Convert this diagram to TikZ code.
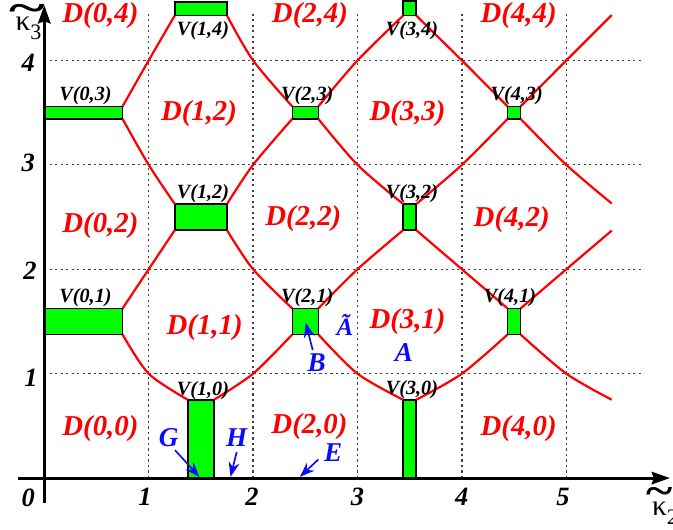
\documentclass[tikz,border=0pt]{standalone}
\usepackage{fontspec}
\setmainfont{Liberation Serif}
\usetikzlibrary{arrows.meta}
\definecolor{vgreen}{RGB}{0,255,0}
\definecolor{dred}{RGB}{255,0,0}
\definecolor{lblue}{RGB}{10,10,255}
\begin{document}
\begin{tikzpicture}[x=1cm,y=1cm,
  gridline/.style={line width=0.35pt, black!75, dash pattern=on 0.6pt off 0.9pt},
  axisline/.style={line width=0.8pt, -{Stealth[length=5pt,width=3.4pt,inset=0.6pt]}},
  vbox/.style={draw=black, line width=0.4pt, fill=vgreen, inner sep=0pt, outer sep=0pt},
  dlab/.style={text=dred, font=\fontsize{7.85}{8}\selectfont\bfseries\itshape, inner sep=0pt, anchor=base},
  vlab/.style={font=\fontsize{5.5}{6}\selectfont\bfseries\itshape, inner sep=0pt, anchor=base},
  ticklab/.style={font=\fontsize{7.2}{8}\selectfont\bfseries\itshape, inner sep=0pt, anchor=base},
  blab/.style={text=lblue, font=\fontsize{7.4}{8}\selectfont\bfseries\itshape, inner sep=0pt, anchor=base},
  curve/.style={draw=dred, line width=0.6pt},
  barrow/.style={draw=lblue, line width=0.45pt, -{Stealth[length=4pt,width=3pt]}}
]
\useasboundingbox (-0.424,-0.489) rectangle (6.022,4.579);

% grid
\foreach \i in {1,...,5} \draw[gridline] (\i,0) -- (\i,4.47);
\foreach \j in {1,...,4} \draw[gridline] (0,\j) -- (5.72,\j);

% coordinates for free ends
\coordinate (e1) at (5.435,0.75);
\coordinate (e2) at (5.435,2.37);
\coordinate (e3) at (5.435,2.63);
\coordinate (e4) at (5.435,4.435);

% boxes
\node[vbox, minimum width=0.75cm, minimum height=0.25cm] (v01) at (0.375,1.5) {};
\node[vbox, minimum width=0.75cm, minimum height=0.12cm] (v03) at (0.375,3.5) {};
\node[vbox, minimum width=0.25cm, minimum height=0.75cm] (v10) at (1.5,0.375) {};
\node[vbox, minimum width=0.5cm, minimum height=0.25cm] (v12) at (1.5,2.5) {};
\node[vbox, minimum width=0.5cm, minimum height=0.13cm] (v14) at (1.5,4.495) {};
\node[vbox, minimum width=0.25cm, minimum height=0.25cm] (v21) at (2.5,1.5) {};
\node[vbox, minimum width=0.25cm, minimum height=0.12cm] (v23) at (2.5,3.5) {};
\node[vbox, minimum width=0.125cm, minimum height=0.75cm] (v30) at (3.5,0.375) {};
\node[vbox, minimum width=0.125cm, minimum height=0.25cm] (v32) at (3.5,2.5) {};
\node[vbox, minimum width=0.125cm, minimum height=0.14cm] (v34) at (3.5,4.5) {};
\node[vbox, minimum width=0.125cm, minimum height=0.25cm] (v41) at (4.5,1.5) {};
\node[vbox, minimum width=0.125cm, minimum height=0.12cm] (v43) at (4.5,3.5) {};

% red curves
\foreach \a/\mx/\my/\b in {
  v01.south east/1/1/v10.north west,
  v10.north east/2/1/v21.south west,
  v21.south east/3/1/v30.north west,
  v30.north east/4/1/v41.south west,
  v41.south east/5/1/e1,
  v01.north east/1/2/v12.south west,
  v12.south east/2/2/v21.north west,
  v21.north east/3/2/v32.south west,
  v32.south east/4/2/v41.north west,
  v41.north east/5/2/e2,
  v03.south east/1/3/v12.north west,
  v12.north east/2/3/v23.south west,
  v23.south east/3/3/v32.north west,
  v32.north east/4/3/v43.south west,
  v43.south east/5/3/e3,
  v03.north east/1/4/v14.south west,
  v14.south east/2/4/v23.north west,
  v23.north east/3/4/v34.south west,
  v34.south east/4/4/v43.north west,
  v43.north east/5/4/e4}
  \draw[curve] plot[smooth] coordinates {(\a) (\mx,\my) (\b)};

% axes
\draw[axisline] (0,-0.24) -- (0,4.53);
\draw[axisline] (-0.255,0) -- (5.993,0);

% axis labels
\node[anchor=base west, inner sep=0pt, font=\fontsize{8}{8}\selectfont] (ky) at (-0.282,4.291) {κ\raisebox{-2.7pt}{\fontsize{6}{6}\selectfont 3}};
\node[inner sep=0pt, font=\fontsize{11}{11}\selectfont\bfseries] (kyt) at (-0.161,4.45) {\scalebox{1.7}[1]{\textasciitilde}};
\node[anchor=base west, inner sep=0pt, font=\fontsize{8}{8}\selectfont] (kx) at (5.815,-0.354) {κ\raisebox{-2.7pt}{\fontsize{6}{6}\selectfont 2}};
\node[inner sep=0pt, font=\fontsize{11}{11}\selectfont\bfseries] (kxt) at (5.896,-0.17) {\scalebox{1.25}[1]{\textasciitilde}};

% tick labels
\node[ticklab] (t0) at (-0.153,-0.275) {0};
\node[ticklab] (ty1) at (-0.127,0.875) {1};
\node[ticklab] (ty2) at (-0.137,1.903) {2};
\node[ticklab] (ty3) at (-0.153,2.934) {3};
\node[ticklab] (ty4) at (-0.153,3.892) {4};
\node[ticklab] (tx1) at (0.965,-0.259) {1};
\node[ticklab] (tx2) at (1.989,-0.259) {2};
\node[ticklab] (tx3) at (3.0,-0.259) {3};
\node[ticklab] (tx4) at (3.998,-0.259) {4};
\node[ticklab] (tx5) at (4.968,-0.259) {5};

% D labels
\node[dlab] (d04) at (0.538,4.361) {D(0,4)};
\node[dlab] (d24) at (2.545,4.361) {D(2,4)};
\node[dlab] (d44) at (4.544,4.361) {D(4,4)};
\node[dlab] (d12) at (1.482,3.429) {D(1,2)};
\node[dlab] (d33) at (3.479,3.423) {D(3,3)};
\node[dlab] (d02) at (0.538,2.353) {D(0,2)};
\node[dlab] (d22) at (2.481,2.423) {D(2,2)};
\node[dlab] (d42) at (4.477,2.414) {D(4,2)};
\node[dlab] (d11) at (1.536,1.376) {D(1,1)};
\node[dlab] (d31) at (3.479,1.434) {D(3,1)};
\node[dlab] (d00) at (0.538,0.412) {D(0,0)};
\node[dlab] (d20) at (2.540,0.428) {D(2,0)};
\node[dlab] (d40) at (4.544,0.412) {D(4,0)};

% V labels
\node[vlab] (l03) at (0.395,3.621) {V(0,3)};
\node[vlab] (l14) at (1.520,4.243) {V(1,4)};
\node[vlab] (l23) at (2.519,3.621) {V(2,3)};
\node[vlab] (l34) at (3.522,4.243) {V(3,4)};
\node[vlab] (l43) at (4.525,3.621) {V(4,3)};
\node[vlab] (l12) at (1.520,2.679) {V(1,2)};
\node[vlab] (l01) at (0.395,1.679) {V(0,1)};
\node[vlab] (l32) at (3.522,2.679) {V(3,2)};
\node[vlab] (l21) at (2.519,1.679) {V(2,1)};
\node[vlab] (l41) at (4.461,1.679) {V(4,1)};
\node[vlab] (l10) at (1.520,0.795) {V(1,0)};
\node[vlab] (l30) at (3.522,0.802) {V(3,0)};

% blue labels and arrows
\node[blab] (G) at (1.192,0.300) {G};
\node[blab] (H) at (1.843,0.307) {H};
\node[blab] (E) at (2.768,0.156) {E};
\node[blab] (B) at (2.609,1.018) {B};
\node[blab] (A) at (3.445,1.114) {A};
\node[blab, font=\fontsize{6.8}{8}\selectfont\bfseries\itshape] (At) at (2.880,1.370) {Ã};

\coordinate (gt) at (1.252,0.268); \coordinate (gh) at (1.485,0.012);
\coordinate (ht) at (1.843,0.249); \coordinate (hh) at (1.784,0.012);
\coordinate (et) at (2.625,0.179); \coordinate (eh) at (2.449,0.012);
\coordinate (bt) at (2.571,1.226); \coordinate (bh) at (2.504,1.488);
\draw[barrow] (gt) -- (gh);
\draw[barrow] (ht) -- (hh);
\draw[barrow] (et) -- (eh);
\draw[barrow] (bt) -- (bh);
\end{tikzpicture}
\end{document}
